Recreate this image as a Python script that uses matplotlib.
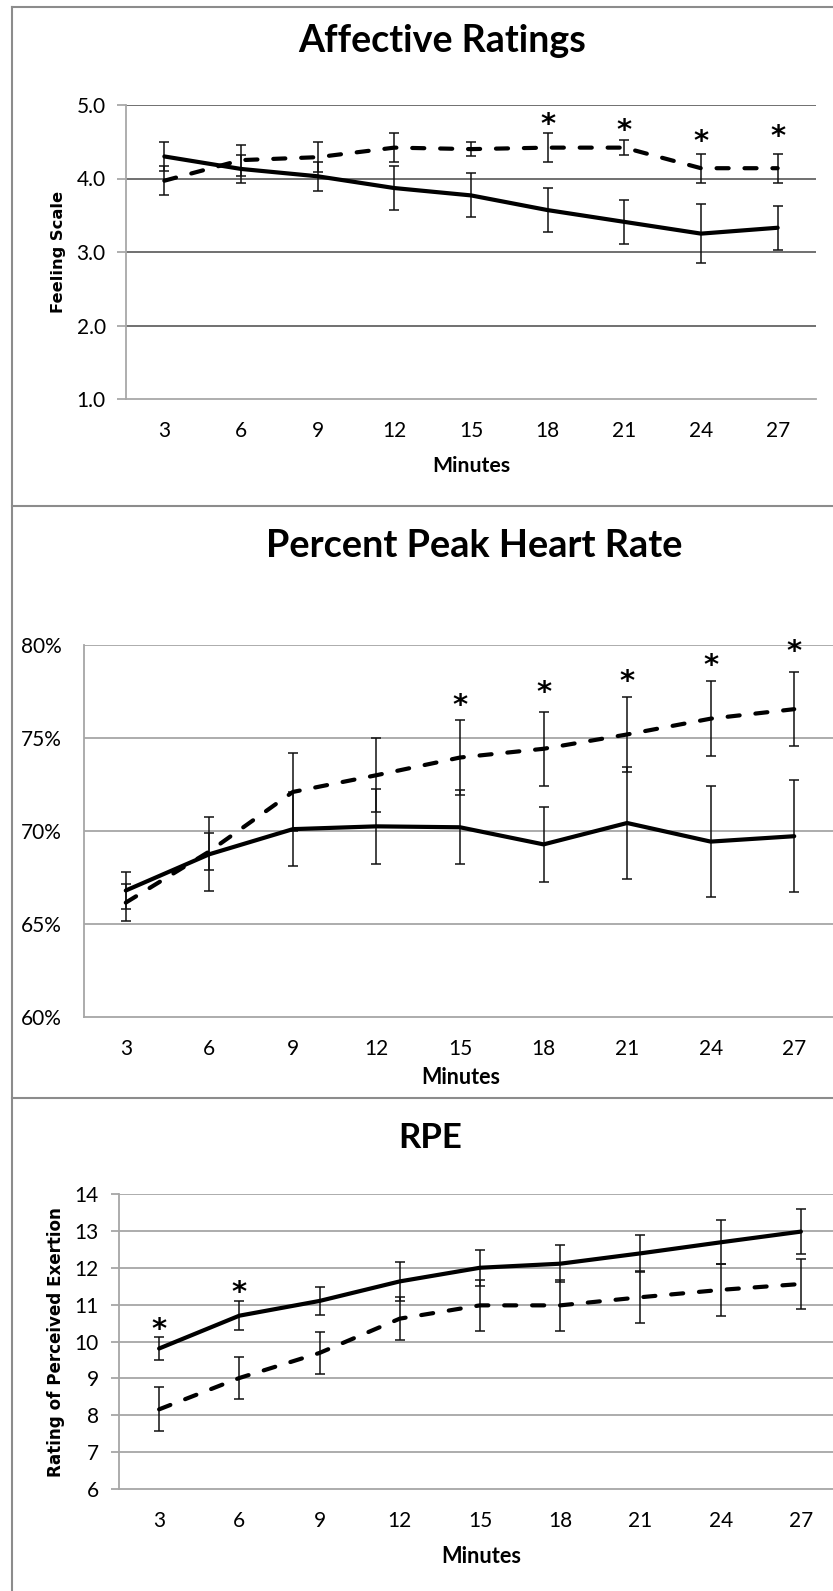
import matplotlib
matplotlib.use('Agg')
import matplotlib.pyplot as plt
from matplotlib.lines import Line2D
from matplotlib.ticker import FuncFormatter

# ---------------- data ----------------
minutes = [3, 6, 9, 12, 15, 18, 21, 24, 27]

aff_solid = [4.30, 4.13, 4.03, 3.87, 3.77, 3.57, 3.41, 3.25, 3.33]
aff_solid_err = [0.20, 0.19, 0.20, 0.30, 0.30, 0.30, 0.30, 0.40, 0.30]
aff_dashed = [3.97, 4.25, 4.29, 4.42, 4.40, 4.42, 4.42, 4.14, 4.14]
aff_dashed_err = [0.20, 0.21, 0.20, 0.20, 0.10, 0.20, 0.10, 0.20, 0.20]
aff_star_x = [18, 21, 24, 27]
aff_star_y = [4.84, 4.76, 4.61, 4.68]
aff_yticks = [1.0, 2.0, 3.0, 4.0, 5.0]

hr_solid = [66.8, 68.75, 70.1, 70.25, 70.2, 69.28, 70.43, 69.43, 69.72]
hr_solid_err = [0.97, 2.0, 2.0, 2.0, 2.0, 2.0, 3.0, 3.0, 3.0]
hr_dashed = [66.15, 68.9, 72.1, 73.0, 73.95, 74.42, 75.19, 76.04, 76.55]
hr_dashed_err = [0.98, 1.0, 2.1, 2.0, 2.0, 2.0, 2.0, 2.0, 2.0]
hr_star_x = [15, 18, 21, 24, 27]
hr_star_y = [77.2, 77.87, 78.49, 79.34, 80.1]
hr_yticks = [60, 65, 70, 75, 80]

rpe_solid = [9.81, 10.70, 11.10, 11.63, 12.00, 12.11, 12.39, 12.69, 12.98]
rpe_solid_err = [0.30, 0.40, 0.39, 0.53, 0.49, 0.50, 0.50, 0.60, 0.61]
rpe_dashed = [8.16, 9.01, 9.69, 10.62, 10.98, 10.98, 11.20, 11.40, 11.56]
rpe_dashed_err = [0.60, 0.58, 0.58, 0.58, 0.70, 0.69, 0.71, 0.70, 0.69]
rpe_star_x = [3, 6]
rpe_star_y = [10.55, 11.56]
rpe_yticks = [6, 7, 8, 9, 10, 11, 12, 13, 14]

# ---------------- figure ----------------
W, H = 833, 1591
fig = plt.figure(figsize=(W / 100, H / 100), dpi=100)
fig.patch.set_facecolor('white')
renderer = fig.canvas.get_renderer()

TICKFONT = 'Lato'
FRAME = '#8c8c8c'


def rect(l, t, r, b):
    return [l / W, 1 - b / H, (r - l) / W, (b - t) / H]


def fit_text(xc, y, s, target, rotation=0, va='baseline', **kw):
    t = fig.text(xc / W, 1 - y / H, s, ha='center', va=va, rotation=rotation, **kw)
    bb = t.get_window_extent(renderer=renderer)
    w = bb.height if rotation == 90 else bb.width
    t.set_fontsize(t.get_fontsize() * target / w)
    return t


def panel(box, ylim, yticks, fmt, solid, serr, dashed, derr, sx, sy,
          grid_color, spine_color, ytick_len, ypad):
    ax = fig.add_axes(rect(*box))
    ax.set_facecolor('none')
    ax.set_xlim(1.5, 28.5)
    ax.set_ylim(*ylim)
    ax.set_xticks(minutes)
    ax.set_yticks(yticks)
    ax.yaxis.set_major_formatter(FuncFormatter(fmt))
    for y in yticks[1:]:
        ax.axhline(y, color=grid_color, lw=1.3, zorder=1)
    for side in ('top', 'right'):
        ax.spines[side].set_visible(False)
    for side in ('left', 'bottom'):
        ax.spines[side].set_color(spine_color)
        ax.spines[side].set_linewidth(1.3)
    ax.tick_params(axis='x', length=0, pad=16, labelsize=15)
    ax.tick_params(axis='y', length=ytick_len, width=1.3, color=spine_color,
                   pad=ypad, labelsize=15)
    for lab in ax.get_xticklabels() + ax.get_yticklabels():
        lab.set_fontfamily(TICKFONT)
    ax.errorbar(minutes, solid, yerr=serr, fmt='none', ecolor='#111111',
                elinewidth=1.1, capsize=3.6, capthick=1.1, zorder=2)
    ax.errorbar(minutes, dashed, yerr=derr, fmt='none', ecolor='#111111',
                elinewidth=1.1, capsize=3.6, capthick=1.1, zorder=2)
    ax.plot(minutes, solid, color='black', lw=3.0, solid_capstyle='round',
            solid_joinstyle='round', zorder=3)
    ln, = ax.plot(minutes, dashed, color='black', lw=3.0, zorder=3,
                  dash_capstyle='round')
    ln.set_dashes((2.9, 3.8))
    for x, y in zip(sx, sy):
        ax.annotate('*', xy=(x, y), xytext=(0, -12.0), textcoords='offset points',
                    ha='center', va='baseline', fontsize=21, fontweight='bold',
                    family='DejaVu Sans', annotation_clip=False, zorder=4)
    return ax


# Panel 1: Affective Ratings
panel((126, 105, 816, 399), (1.0, 5.0), aff_yticks, lambda v, p: f'{v:.1f}',
      aff_solid, aff_solid_err, aff_dashed, aff_dashed_err, aff_star_x, aff_star_y,
      '#656565', '#a8a8a8', 6.2, 8.4)
# Panel 2: Percent Peak Heart Rate
panel((84, 645, 836, 1017), (60, 80), hr_yticks, lambda v, p: f'{v:.0f}%',
      hr_solid, hr_solid_err, hr_dashed, hr_dashed_err, hr_star_x, hr_star_y,
      '#a6a6a6', '#a6a6a6', 0, 16)
# Panel 3: RPE
panel((119, 1194, 841, 1489), (6, 14), rpe_yticks, lambda v, p: f'{v:.0f}',
      rpe_solid, rpe_solid_err, rpe_dashed, rpe_dashed_err, rpe_star_x, rpe_star_y,
      '#a6a6a6', '#a6a6a6', 5.8, 8.6)

# Titles
fit_text(442, 52, 'Affective Ratings', 289, fontsize=24, fontweight='bold', family='Lato')
fit_text(474, 557, 'Percent Peak Heart Rate', 417, fontsize=24, fontweight='bold', family='Lato')
fit_text(430, 1148, 'RPE', 64, fontsize=24, fontweight='bold', family='Lato')

# X axis labels
fit_text(471, 472, 'Minutes', 78, fontsize=15, fontweight='bold', family='Lato')
fit_text(461, 1084, 'Minutes', 79, fontsize=15, fontweight='bold', family='Lato')
fit_text(481, 1563, 'Minutes', 80, fontsize=15, fontweight='bold', family='Lato')

# Y axis labels
fit_text(58, 252, 'Feeling Scale', 121, rotation=90, va='center',
         fontsize=12, fontweight='bold', family='DejaVu Sans')
fit_text(56, 1342, 'Rating of Perceived Exertion', 269, rotation=90, va='center',
         fontsize=12, fontweight='bold', family='DejaVu Sans')

# Panel frames
lw_frame = 1.5
fig.add_artist(Line2D([12 / W, 12 / W], [1 - 7 / H, 0], color=FRAME, lw=lw_frame))
for yy in (7, 506, 1098):
    fig.add_artist(Line2D([12 / W, 1], [1 - yy / H, 1 - yy / H], color=FRAME, lw=lw_frame))

fig.savefig('out.png', dpi=100, facecolor='white')
